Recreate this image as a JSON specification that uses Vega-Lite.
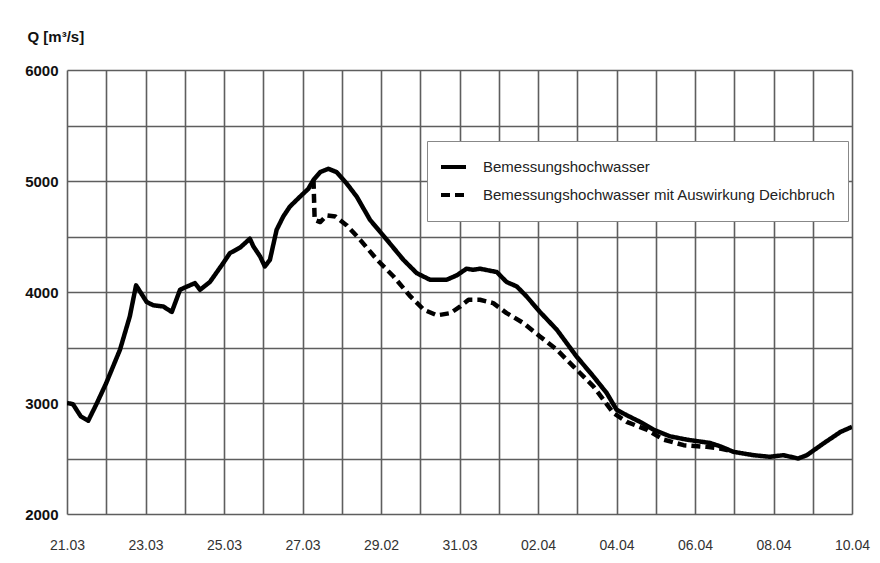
{
  "$schema": "https://vega.github.io/schema/vega-lite/v6.json",
  "width": 785,
  "height": 444,
  "autosize": {"type": "none"},
  "padding": {"left": 67, "top": 70, "right": 28, "bottom": 49},
  "background": "white",
  "config": {
    "view": {"stroke": null},
    "font": "Liberation Sans, Arial, sans-serif"
  },
  "data": {
    "values": [
      {"t": "2006-03-21T00:00Z", "q": 3000, "series": "Bemessungshochwasser"},
      {"t": "2006-03-21T03:36Z", "q": 2990, "series": "Bemessungshochwasser"},
      {"t": "2006-03-21T08:24Z", "q": 2880, "series": "Bemessungshochwasser"},
      {"t": "2006-03-21T12:58Z", "q": 2840, "series": "Bemessungshochwasser"},
      {"t": "2006-03-21T18:00Z", "q": 2990, "series": "Bemessungshochwasser"},
      {"t": "2006-03-22T00:00Z", "q": 3180, "series": "Bemessungshochwasser"},
      {"t": "2006-03-22T08:24Z", "q": 3480, "series": "Bemessungshochwasser"},
      {"t": "2006-03-22T14:24Z", "q": 3780, "series": "Bemessungshochwasser"},
      {"t": "2006-03-22T18:14Z", "q": 4060, "series": "Bemessungshochwasser"},
      {"t": "2006-03-23T00:43Z", "q": 3910, "series": "Bemessungshochwasser"},
      {"t": "2006-03-23T04:48Z", "q": 3880, "series": "Bemessungshochwasser"},
      {"t": "2006-03-23T10:48Z", "q": 3870, "series": "Bemessungshochwasser"},
      {"t": "2006-03-23T16:05Z", "q": 3820, "series": "Bemessungshochwasser"},
      {"t": "2006-03-23T21:07Z", "q": 4020, "series": "Bemessungshochwasser"},
      {"t": "2006-03-24T00:00Z", "q": 4040, "series": "Bemessungshochwasser"},
      {"t": "2006-03-24T06:14Z", "q": 4080, "series": "Bemessungshochwasser"},
      {"t": "2006-03-24T09:22Z", "q": 4020, "series": "Bemessungshochwasser"},
      {"t": "2006-03-24T15:22Z", "q": 4090, "series": "Bemessungshochwasser"},
      {"t": "2006-03-24T23:31Z", "q": 4260, "series": "Bemessungshochwasser"},
      {"t": "2006-03-25T03:36Z", "q": 4350, "series": "Bemessungshochwasser"},
      {"t": "2006-03-25T09:50Z", "q": 4400, "series": "Bemessungshochwasser"},
      {"t": "2006-03-25T15:50Z", "q": 4480, "series": "Bemessungshochwasser"},
      {"t": "2006-03-25T18:00Z", "q": 4410, "series": "Bemessungshochwasser"},
      {"t": "2006-03-25T22:05Z", "q": 4320, "series": "Bemessungshochwasser"},
      {"t": "2006-03-26T00:58Z", "q": 4230, "series": "Bemessungshochwasser"},
      {"t": "2006-03-26T04:05Z", "q": 4290, "series": "Bemessungshochwasser"},
      {"t": "2006-03-26T08:10Z", "q": 4560, "series": "Bemessungshochwasser"},
      {"t": "2006-03-26T12:14Z", "q": 4680, "series": "Bemessungshochwasser"},
      {"t": "2006-03-26T16:19Z", "q": 4770, "series": "Bemessungshochwasser"},
      {"t": "2006-03-26T22:34Z", "q": 4860, "series": "Bemessungshochwasser"},
      {"t": "2006-03-27T03:36Z", "q": 4930, "series": "Bemessungshochwasser"},
      {"t": "2006-03-27T06:43Z", "q": 5010, "series": "Bemessungshochwasser"},
      {"t": "2006-03-27T10:48Z", "q": 5080, "series": "Bemessungshochwasser"},
      {"t": "2006-03-27T15:50Z", "q": 5110, "series": "Bemessungshochwasser"},
      {"t": "2006-03-27T20:53Z", "q": 5080, "series": "Bemessungshochwasser"},
      {"t": "2006-03-28T02:53Z", "q": 4980, "series": "Bemessungshochwasser"},
      {"t": "2006-03-28T09:07Z", "q": 4860, "series": "Bemessungshochwasser"},
      {"t": "2006-03-28T17:17Z", "q": 4650, "series": "Bemessungshochwasser"},
      {"t": "2006-03-29T03:36Z", "q": 4470, "series": "Bemessungshochwasser"},
      {"t": "2006-03-29T13:41Z", "q": 4290, "series": "Bemessungshochwasser"},
      {"t": "2006-03-29T21:50Z", "q": 4170, "series": "Bemessungshochwasser"},
      {"t": "2006-03-30T06:00Z", "q": 4110, "series": "Bemessungshochwasser"},
      {"t": "2006-03-30T16:05Z", "q": 4110, "series": "Bemessungshochwasser"},
      {"t": "2006-03-30T22:19Z", "q": 4150, "series": "Bemessungshochwasser"},
      {"t": "2006-03-31T04:19Z", "q": 4210, "series": "Bemessungshochwasser"},
      {"t": "2006-03-31T08:24Z", "q": 4200, "series": "Bemessungshochwasser"},
      {"t": "2006-03-31T12:29Z", "q": 4210, "series": "Bemessungshochwasser"},
      {"t": "2006-03-31T22:48Z", "q": 4180, "series": "Bemessungshochwasser"},
      {"t": "2006-04-01T04:48Z", "q": 4090, "series": "Bemessungshochwasser"},
      {"t": "2006-04-01T11:02Z", "q": 4050, "series": "Bemessungshochwasser"},
      {"t": "2006-04-01T17:02Z", "q": 3960, "series": "Bemessungshochwasser"},
      {"t": "2006-04-02T01:12Z", "q": 3820, "series": "Bemessungshochwasser"},
      {"t": "2006-04-02T11:31Z", "q": 3660, "series": "Bemessungshochwasser"},
      {"t": "2006-04-02T23:31Z", "q": 3420, "series": "Bemessungshochwasser"},
      {"t": "2006-04-03T09:50Z", "q": 3240, "series": "Bemessungshochwasser"},
      {"t": "2006-04-03T18:00Z", "q": 3090, "series": "Bemessungshochwasser"},
      {"t": "2006-04-04T00:00Z", "q": 2940, "series": "Bemessungshochwasser"},
      {"t": "2006-04-04T06:14Z", "q": 2890, "series": "Bemessungshochwasser"},
      {"t": "2006-04-04T14:24Z", "q": 2830, "series": "Bemessungshochwasser"},
      {"t": "2006-04-04T22:34Z", "q": 2760, "series": "Bemessungshochwasser"},
      {"t": "2006-04-05T08:38Z", "q": 2700, "series": "Bemessungshochwasser"},
      {"t": "2006-04-05T18:58Z", "q": 2670, "series": "Bemessungshochwasser"},
      {"t": "2006-04-06T09:07Z", "q": 2640, "series": "Bemessungshochwasser"},
      {"t": "2006-04-06T15:22Z", "q": 2610, "series": "Bemessungshochwasser"},
      {"t": "2006-04-06T23:31Z", "q": 2560, "series": "Bemessungshochwasser"},
      {"t": "2006-04-07T11:46Z", "q": 2530, "series": "Bemessungshochwasser"},
      {"t": "2006-04-07T21:50Z", "q": 2515, "series": "Bemessungshochwasser"},
      {"t": "2006-04-08T06:00Z", "q": 2530, "series": "Bemessungshochwasser"},
      {"t": "2006-04-08T15:07Z", "q": 2500, "series": "Bemessungshochwasser"},
      {"t": "2006-04-08T20:24Z", "q": 2530, "series": "Bemessungshochwasser"},
      {"t": "2006-04-09T06:29Z", "q": 2635, "series": "Bemessungshochwasser"},
      {"t": "2006-04-09T17:02Z", "q": 2740, "series": "Bemessungshochwasser"},
      {"t": "2006-04-10T00:00Z", "q": 2785, "series": "Bemessungshochwasser"},
      {"t": "2006-03-27T06:43Z", "q": 5010, "series": "Bemessungshochwasser mit Auswirkung Deichbruch"},
      {"t": "2006-03-27T07:26Z", "q": 4650, "series": "Bemessungshochwasser mit Auswirkung Deichbruch"},
      {"t": "2006-03-27T10:48Z", "q": 4630, "series": "Bemessungshochwasser mit Auswirkung Deichbruch"},
      {"t": "2006-03-27T14:53Z", "q": 4690, "series": "Bemessungshochwasser mit Auswirkung Deichbruch"},
      {"t": "2006-03-27T20:10Z", "q": 4680, "series": "Bemessungshochwasser mit Auswirkung Deichbruch"},
      {"t": "2006-03-28T03:07Z", "q": 4600, "series": "Bemessungshochwasser mit Auswirkung Deichbruch"},
      {"t": "2006-03-28T11:17Z", "q": 4470, "series": "Bemessungshochwasser mit Auswirkung Deichbruch"},
      {"t": "2006-03-28T21:36Z", "q": 4290, "series": "Bemessungshochwasser mit Auswirkung Deichbruch"},
      {"t": "2006-03-29T07:41Z", "q": 4140, "series": "Bemessungshochwasser mit Auswirkung Deichbruch"},
      {"t": "2006-03-29T18:00Z", "q": 3960, "series": "Bemessungshochwasser mit Auswirkung Deichbruch"},
      {"t": "2006-03-30T02:10Z", "q": 3840, "series": "Bemessungshochwasser mit Auswirkung Deichbruch"},
      {"t": "2006-03-30T10:19Z", "q": 3790, "series": "Bemessungshochwasser mit Auswirkung Deichbruch"},
      {"t": "2006-03-30T18:29Z", "q": 3810, "series": "Bemessungshochwasser mit Auswirkung Deichbruch"},
      {"t": "2006-03-31T00:29Z", "q": 3870, "series": "Bemessungshochwasser mit Auswirkung Deichbruch"},
      {"t": "2006-03-31T05:31Z", "q": 3930, "series": "Bemessungshochwasser mit Auswirkung Deichbruch"},
      {"t": "2006-03-31T12:29Z", "q": 3930, "series": "Bemessungshochwasser mit Auswirkung Deichbruch"},
      {"t": "2006-03-31T20:38Z", "q": 3900, "series": "Bemessungshochwasser mit Auswirkung Deichbruch"},
      {"t": "2006-04-01T04:48Z", "q": 3810, "series": "Bemessungshochwasser mit Auswirkung Deichbruch"},
      {"t": "2006-04-01T15:07Z", "q": 3720, "series": "Bemessungshochwasser mit Auswirkung Deichbruch"},
      {"t": "2006-04-02T01:12Z", "q": 3600, "series": "Bemessungshochwasser mit Auswirkung Deichbruch"},
      {"t": "2006-04-02T11:31Z", "q": 3480, "series": "Bemessungshochwasser mit Auswirkung Deichbruch"},
      {"t": "2006-04-02T21:36Z", "q": 3330, "series": "Bemessungshochwasser mit Auswirkung Deichbruch"},
      {"t": "2006-04-03T09:50Z", "q": 3150, "series": "Bemessungshochwasser mit Auswirkung Deichbruch"},
      {"t": "2006-04-03T22:05Z", "q": 2910, "series": "Bemessungshochwasser mit Auswirkung Deichbruch"},
      {"t": "2006-04-04T06:14Z", "q": 2830, "series": "Bemessungshochwasser mit Auswirkung Deichbruch"},
      {"t": "2006-04-04T18:29Z", "q": 2760, "series": "Bemessungshochwasser mit Auswirkung Deichbruch"},
      {"t": "2006-04-05T04:48Z", "q": 2670, "series": "Bemessungshochwasser mit Auswirkung Deichbruch"},
      {"t": "2006-04-05T17:02Z", "q": 2620, "series": "Bemessungshochwasser mit Auswirkung Deichbruch"},
      {"t": "2006-04-06T07:12Z", "q": 2605, "series": "Bemessungshochwasser mit Auswirkung Deichbruch"},
      {"t": "2006-04-06T15:22Z", "q": 2590, "series": "Bemessungshochwasser mit Auswirkung Deichbruch"},
      {"t": "2006-04-06T21:36Z", "q": 2570, "series": "Bemessungshochwasser mit Auswirkung Deichbruch"}
    ]
  },
  "mark": {"type": "line", "color": "black", "strokeWidth": 4.5, "strokeJoin": "round", "strokeCap": "butt", "clip": true},
  "encoding": {
    "x": {
      "field": "t",
      "type": "temporal",
      "scale": {"type": "utc", "domain": [{"year": 2006, "month": 3, "date": 21, "utc": true}, {"year": 2006, "month": 4, "date": 10, "utc": true}]},
      "axis": {
        "title": null,
        "format": "%d.%m",
        "values": [
          {"year": 2006, "month": 3, "date": 21, "utc": true},
          {"year": 2006, "month": 3, "date": 22, "utc": true},
          {"year": 2006, "month": 3, "date": 23, "utc": true},
          {"year": 2006, "month": 3, "date": 24, "utc": true},
          {"year": 2006, "month": 3, "date": 25, "utc": true},
          {"year": 2006, "month": 3, "date": 26, "utc": true},
          {"year": 2006, "month": 3, "date": 27, "utc": true},
          {"year": 2006, "month": 3, "date": 28, "utc": true},
          {"year": 2006, "month": 3, "date": 29, "utc": true},
          {"year": 2006, "month": 3, "date": 30, "utc": true},
          {"year": 2006, "month": 3, "date": 31, "utc": true},
          {"year": 2006, "month": 4, "date": 1, "utc": true},
          {"year": 2006, "month": 4, "date": 2, "utc": true},
          {"year": 2006, "month": 4, "date": 3, "utc": true},
          {"year": 2006, "month": 4, "date": 4, "utc": true},
          {"year": 2006, "month": 4, "date": 5, "utc": true},
          {"year": 2006, "month": 4, "date": 6, "utc": true},
          {"year": 2006, "month": 4, "date": 7, "utc": true},
          {"year": 2006, "month": 4, "date": 8, "utc": true},
          {"year": 2006, "month": 4, "date": 9, "utc": true},
          {"year": 2006, "month": 4, "date": 10, "utc": true}
        ],
        "labelExpr": "indexof(['21.03','23.03','25.03','27.03','31.03','02.04','04.04','06.04','08.04','10.04'], datum.label) >= 0 ? datum.label : (datum.label == '29.03' ? '29.02' : '')",
        "domain": false,
        "ticks": false,
        "grid": true,
        "gridColor": "#5e5e5e",
        "gridWidth": 1.6,
        "gridOpacity": 1,
        "labelFont": "Liberation Sans, Arial, sans-serif",
        "labelFontSize": 14,
        "labelColor": "#333333",
        "labelPadding": 24,
        "labelBaseline": "top",
        "labelFlush": false,
        "labelOverlap": false
      }
    },
    "y": {
      "field": "q",
      "type": "quantitative",
      "scale": {"domain": [2000, 6000], "nice": false, "zero": false},
      "axis": {
        "title": "Q [m³/s]",
        "titleAngle": 0,
        "titleAlign": "left",
        "titleBaseline": "alphabetic",
        "titleX": -40,
        "titleY": -29,
        "titleFont": "Liberation Sans, Arial, sans-serif",
        "titleFontSize": 15,
        "titleFontWeight": "bold",
        "titleColor": "#111111",
        "values": [2000, 2500, 3000, 3500, 4000, 4500, 5000, 5500, 6000],
        "format": "d",
        "labelExpr": "datum.value % 1000 == 0 ? datum.label : ''",
        "domain": false,
        "ticks": false,
        "grid": true,
        "gridColor": "#5e5e5e",
        "gridWidth": 1.6,
        "gridOpacity": 1,
        "labelFont": "Liberation Sans, Arial, sans-serif",
        "labelFontSize": 15,
        "labelFontWeight": "bold",
        "labelColor": "#111111",
        "labelPadding": 9,
        "labelBaseline": "middle",
        "labelFlush": false
      }
    },
    "strokeDash": {
      "field": "series",
      "type": "nominal",
      "scale": {
        "domain": ["Bemessungshochwasser", "Bemessungshochwasser mit Auswirkung Deichbruch"],
        "range": [[1, 0], [9, 5]]
      },
      "legend": {
        "title": null,
        "orient": "none",
        "legendX": 360,
        "legendY": 71,
        "direction": "vertical",
        "strokeColor": "#888888",
        "fillColor": "white",
        "padding": 12,
        "clipHeight": 28,
        "rowPadding": 0,
        "symbolType": "stroke",
        "symbolSize": 625,
        "symbolStrokeWidth": 4,
        "symbolStrokeColor": "black",
        "labelFont": "Liberation Sans, Arial, sans-serif",
        "labelFontSize": 15,
        "labelColor": "#222222",
        "labelOffset": 15,
        "labelLimit": 500
      }
    }
  }
}
